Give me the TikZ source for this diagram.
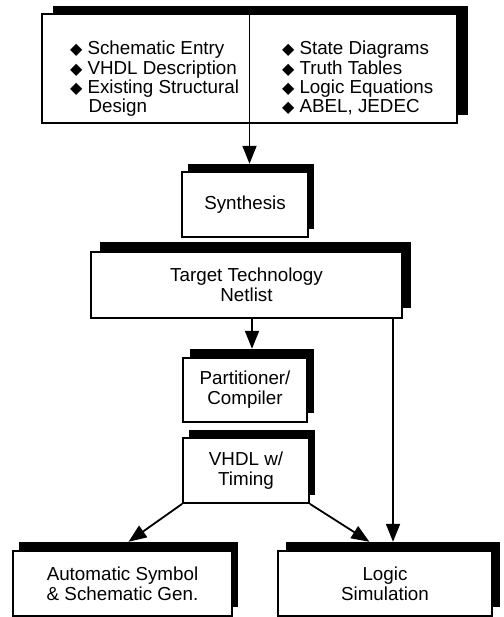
\documentclass[tikz,border=0pt]{standalone}
\usepackage{fontspec}
\setmainfont{Liberation Sans}
\newfontfamily\symfont{DejaVu Sans}
\usetikzlibrary{arrows.meta,calc}
\newcommand{\dia}{{\symfont\fontsize{16}{16}\selectfont ◆}}
\begin{document}
\begin{tikzpicture}[x=1pt,y=-1pt,
  box/.style={draw=black, line width=1.8pt, fill=white, inner sep=0pt, align=center,
    font=\fontsize{18.8}{20}\selectfont},
  shadowbox/.style={fill=black, inner sep=0pt},
  col/.style={inner sep=0pt, anchor=base west, font=\fontsize{18.8}{19}\selectfont},
  arr/.style={line width=1.8pt, -{Triangle[length=18pt,width=14pt]}},
  ln/.style={line width=1.8pt}]
\useasboundingbox (0,0) rectangle (503,617);

% shadows
\node[shadowbox, minimum width=415pt, minimum height=109pt] (topS) at (260,60.5) {};
\node[shadowbox, minimum width=126pt, minimum height=65pt] (synS) at (251,196.5) {};
\node[shadowbox, minimum width=311pt, minimum height=66pt] (tgtS) at (255.5,275) {};
\node[shadowbox, minimum width=124pt, minimum height=64pt] (partS) at (252,381) {};
\node[shadowbox, minimum width=126pt, minimum height=65pt] (vhdlS) at (252,462.5) {};
\node[shadowbox, minimum width=219pt, minimum height=65pt] (autoS) at (128.5,574.5) {};
\node[shadowbox, minimum width=214pt, minimum height=65pt] (logicS) at (393,574.5) {};

% front boxes
\node[box, minimum width=415pt, minimum height=109pt] (top) at (249.5,68.5) {};
\node[box, minimum width=126pt, minimum height=65pt] (syn) at (245,204.5) {Synthesis};
\node[box, minimum width=311pt, minimum height=66pt] (tgt) at (246.5,285) {Target Technology\\Netlist};
\node[box, minimum width=124pt, minimum height=64pt] (part) at (245,390) {Partitioner/\\Compiler};
\node[box, minimum width=126pt, minimum height=65pt] (vhdl) at (246,470.5) {VHDL w/\\Timing};
\node[box, minimum width=219pt, minimum height=65pt] (auto) at (122.5,583.5) {Automatic Symbol\\\& Schematic Gen.};
\node[box, minimum width=214pt, minimum height=65pt] (logic) at (385,583.5) {Logic\\Simulation};

% top box content
\node[col] (lcol) at (70,55) {\begin{tabular}[t]{@{}l@{\hspace{5pt}}l@{}}
\dia & Schematic Entry\\
\dia & VHDL Description\\
\dia & Existing Structural\\
     & \hspace{1pt}Design
\end{tabular}};
\node[col] (rcol) at (282,55) {\begin{tabular}[t]{@{}l@{\hspace{5pt}}l@{}}
\dia & State Diagrams\\
\dia & Truth Tables\\
\dia & Logic Equations\\
\dia & ABEL, JEDEC
\end{tabular}};
\draw[ln] (top.north) -- (top.south);

% connectors
\draw[arr] (top.south) -- (top.south |- synS.north);
\draw[arr] (tgt.south -| partS.north) -- (partS.north);
\draw[arr] (tgt.south -| logicS.north) -- (logicS.north);
\draw[arr] (vhdl.south west) -- (autoS.north);
\draw[arr] (vhdl.south east) -- ($(logicS.north west)!0.39!(logicS.north east)$);
\end{tikzpicture}
\end{document}
